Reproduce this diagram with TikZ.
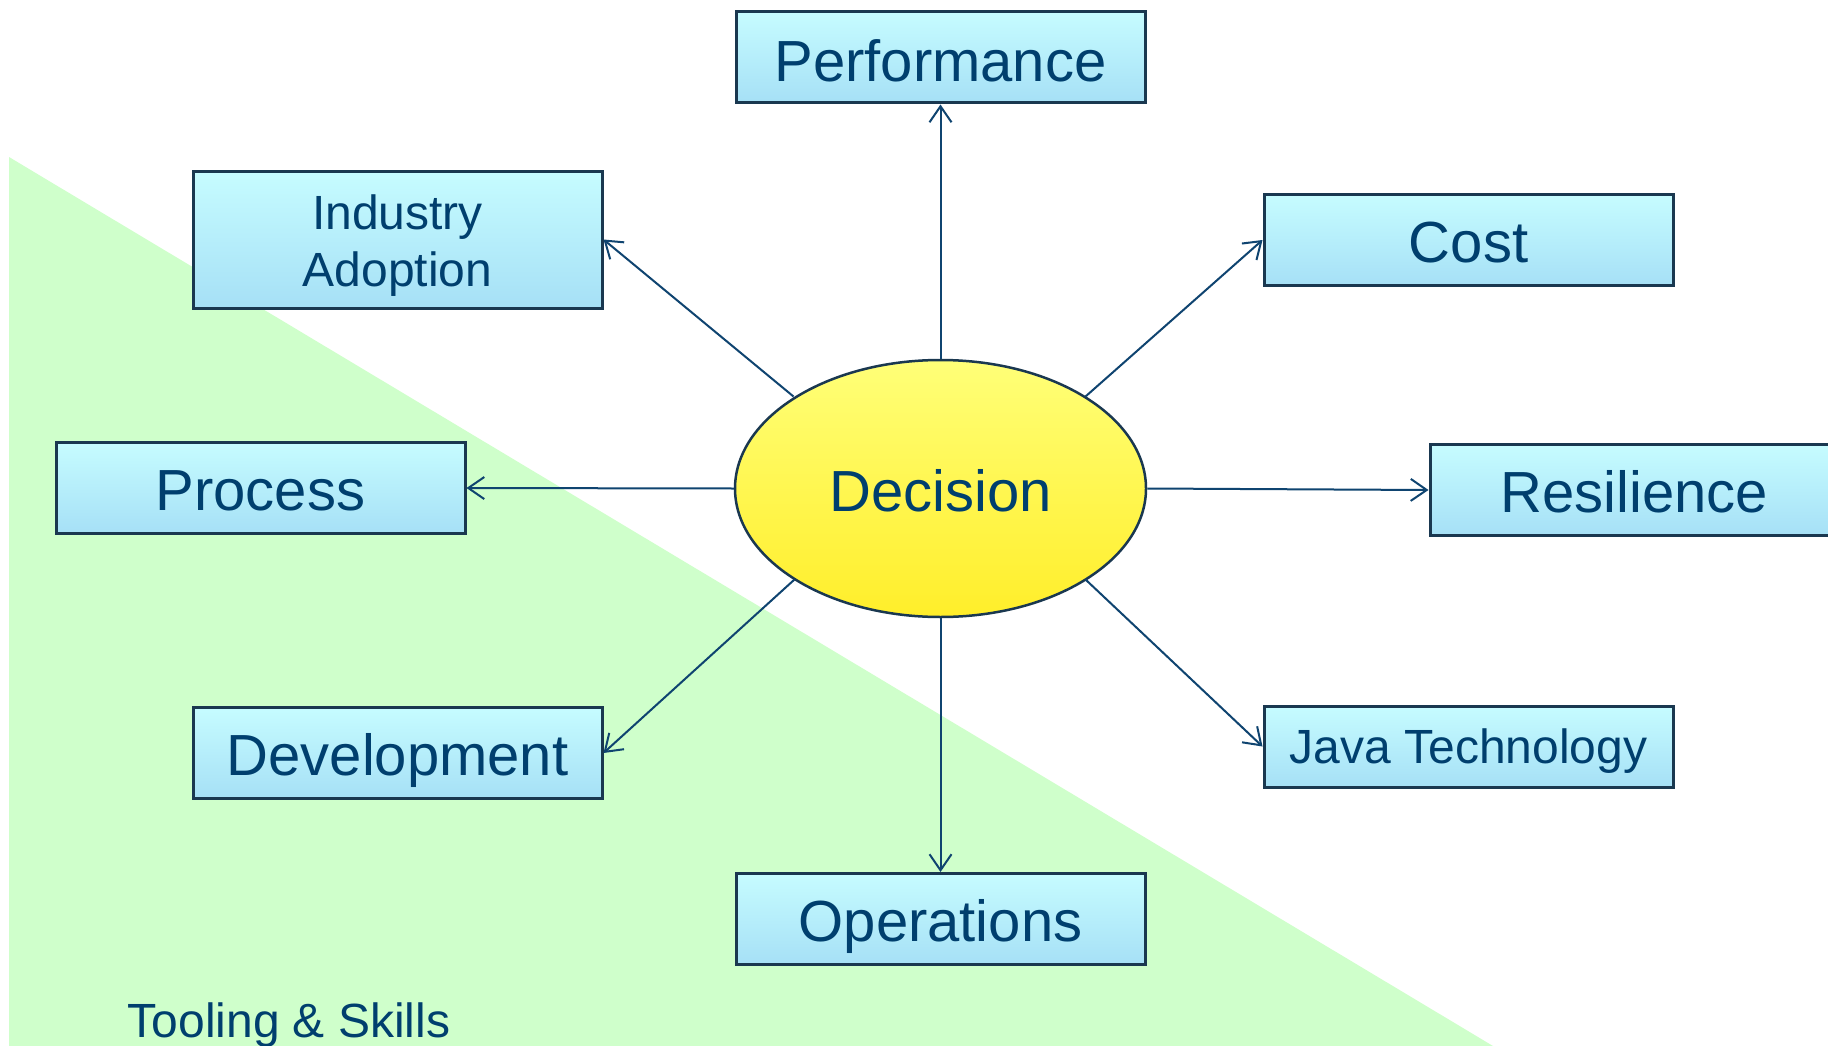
\documentclass[tikz,border=0pt]{standalone}
\usepackage{fontspec}
\setmainfont{Liberation Sans}
\usetikzlibrary{arrows.meta,shapes.geometric}
\definecolor{txt}{HTML}{003F6E}
\definecolor{lnc}{HTML}{0F4470}
\definecolor{bord}{HTML}{1A3850}
\definecolor{boxtop}{HTML}{C6FCFF}
\definecolor{boxbot}{HTML}{A6E0F6}
\definecolor{greenbg}{HTML}{CFFFCB}
\definecolor{ytop}{HTML}{FFFF78}
\definecolor{ybot}{HTML}{FFEE2A}
\tikzset{
  factor/.style={draw=bord, line width=3pt, rectangle, minimum width=409pt, minimum height=91pt,
    top color=boxtop, bottom color=boxbot, text=txt, align=center, inner sep=0pt,
    text height=44pt, text depth=0pt,
    font=\fontsize{58}{64}\selectfont},
  small/.style={font=\fontsize{48}{57}\selectfont, text height=34pt, text depth=0pt},
  lbl/.style={text=txt, align=center, inner sep=0pt, font=\fontsize{48}{57}\selectfont},
  center/.style={draw=bord, line width=2.5pt, ellipse, minimum width=411pt, minimum height=257pt,
    inner sep=0pt, top color=ytop, bottom color=ybot, text=txt, font=\fontsize{58}{64}\selectfont,
    text height=45pt, text depth=0pt},
  link/.style={draw=lnc, line width=2pt, -{Straight Barb[length=16pt,width=22pt,line width=2pt]}},
}
\begin{document}
\begin{tikzpicture}[x=1pt,y=-1pt]
\useasboundingbox (0,0) rectangle (1828,1046);
\fill[white] (0,0) rectangle (1828,1046);
\begin{scope}
\clip (0,0) rectangle (1828,1046);
\fill[greenbg] (9,157) -- (1493,1046) -- (9,1046) -- cycle;
\node[text=txt, font=\fontsize{48}{56}\selectfont, anchor=base] (tool) at (289,1037) {Tooling \& Skills};

\node[center] (dec) at (940.5,488.5) {Decision};
\node[factor, text height=48pt] (perf) at (940.5,57.5) {Performance};
\node[factor, minimum height=137pt, text height=0pt] (ind) at (397.5,239.5) {};
\node[lbl, anchor=center] (indtxt) at ([yshift=-6pt]ind.center) {Industry\\Adoption};
\node[factor] (cost) at (1468.5,240) {Cost};
\node[factor] (proc) at (260.5,488) {Process};
\node[factor] (res) at (1634.5,490) {Resilience};
\node[factor] (dev) at (397.5,753) {Development};
\node[factor, small, minimum height=81pt] (java) at (1468.5,746.5) {Java Technology};
\node[factor] (ops) at (940.5,919) {Operations};

\draw[link] (dec.north) -- (perf.south);
\draw[link] (dec.south) -- (ops.north);
\draw[link] (dec.west) -- (proc.east);
\draw[link] (dec.east) -- (res.west);
\draw[link] (dec) ++(-147,-92) coordinate (d1) (d1) -- (ind.east);
\draw[link] (dec) ++(145,-92) coordinate (d2) (d2) -- (cost.west);
\draw[link] (dec) ++(-146,91) coordinate (d3) (d3) -- (dev.east);
\draw[link] (dec) ++(145,91) coordinate (d4) (d4) -- (java.west);
\end{scope}
\end{tikzpicture}
\end{document}
